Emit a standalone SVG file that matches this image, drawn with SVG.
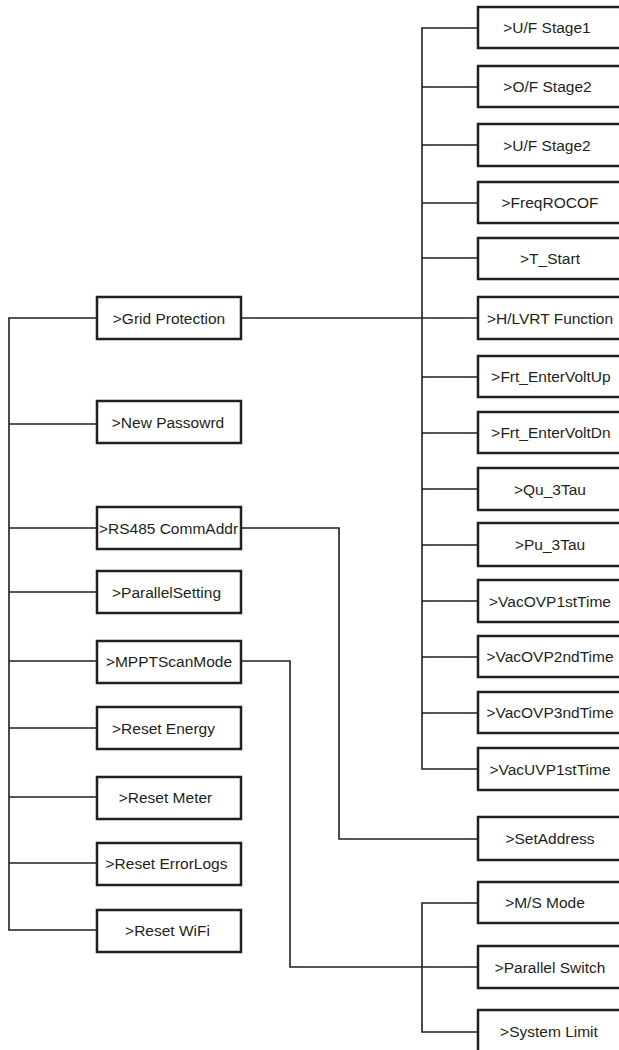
<svg xmlns="http://www.w3.org/2000/svg" width="619" height="1050" viewBox="0 0 619 1050">
<style>
.box{fill:#fff;stroke:#231f20;stroke-width:2.5}
.ln{fill:none;stroke:#231f20;stroke-width:1.6}
text{font-family:"Liberation Sans",Arial,sans-serif;font-size:15.5px;fill:#231f20;text-anchor:middle}
</style>
<rect width="619" height="1050" fill="#fff"/>
<g id="connectors">
<path class="ln" d="M97,318 H9 V930 H97"/>
<path class="ln" d="M9,424 H97 M9,528 H97 M9,592 H97 M9,661 H97 M9,728 H97 M9,797 H97 M9,863 H97"/>
<path class="ln" d="M241,318 H478"/>
<path class="ln" d="M478,28 H422 V769 H478"/>
<path class="ln" d="M422,87 H478 M422,145 H478 M422,203 H478 M422,258 H478 M422,377 H478 M422,433 H478 M422,489 H478 M422,545 H478 M422,601 H478 M422,657 H478 M422,713 H478"/>
<path class="ln" d="M241,528 H339 V839 H478"/>
<path class="ln" d="M241,661 H290 V967 H478"/>
<path class="ln" d="M478,903 H422 V1032 H478"/>
</g>
<g id="n-grid"><rect class="box" x="97" y="297" width="144" height="42"/><text x="169" y="323.5">&gt;Grid Protection</text></g>
<g id="n-pwd"><rect class="box" x="97" y="401" width="144" height="42"/><text x="168" y="427.5">&gt;New Passowrd</text></g>
<g id="n-rs485"><rect class="box" x="97" y="507" width="144" height="42"/><text x="168.5" y="533.5">&gt;RS485 CommAddr</text></g>
<g id="n-parset"><rect class="box" x="97" y="571" width="144" height="42"/><text x="166.5" y="597.5">&gt;ParallelSetting</text></g>
<g id="n-mppt"><rect class="box" x="97" y="641" width="144" height="42"/><text x="169" y="667">&gt;MPPTScanMode</text></g>
<g id="n-renergy"><rect class="box" x="97" y="707" width="144" height="42"/><text x="163.5" y="733.5">&gt;Reset Energy</text></g>
<g id="n-rmeter"><rect class="box" x="97" y="777" width="144" height="42"/><text x="165.5" y="803">&gt;Reset Meter</text></g>
<g id="n-rerr"><rect class="box" x="97" y="843" width="144" height="42"/><text x="166.5" y="869">&gt;Reset ErrorLogs</text></g>
<g id="n-rwifi"><rect class="box" x="97" y="910" width="144" height="42"/><text x="167.5" y="936">&gt;Reset WiFi</text></g>

<g id="n-uf1"><rect class="box" x="478" y="7" width="144" height="41"/><text x="547" y="33">&gt;U/F Stage1</text></g>
<g id="n-of2"><rect class="box" x="478" y="66" width="144" height="41"/><text x="547.5" y="92">&gt;O/F Stage2</text></g>
<g id="n-uf2"><rect class="box" x="478" y="124" width="144" height="42"/><text x="547" y="150.5">&gt;U/F Stage2</text></g>
<g id="n-rocof"><rect class="box" x="478" y="182" width="144" height="41"/><text x="550" y="208">&gt;FreqROCOF</text></g>
<g id="n-tstart"><rect class="box" x="478" y="238" width="144" height="41"/><text x="550" y="264">&gt;T_Start</text></g>
<g id="n-hlvrt"><rect class="box" x="478" y="297" width="144" height="42"/><text x="550" y="323.5">&gt;H/LVRT Function</text></g>
<g id="n-frtup"><rect class="box" x="478" y="356" width="144" height="41"/><text x="551" y="382">&gt;Frt_EnterVoltUp</text></g>
<g id="n-frtdn"><rect class="box" x="478" y="412" width="144" height="41"/><text x="551" y="438">&gt;Frt_EnterVoltDn</text></g>
<g id="n-qu"><rect class="box" x="478" y="468" width="144" height="42"/><text x="550" y="494.5">&gt;Qu_3Tau</text></g>
<g id="n-pu"><rect class="box" x="478" y="523" width="144" height="43"/><text x="550" y="550">&gt;Pu_3Tau</text></g>
<g id="n-ovp1"><rect class="box" x="478" y="580" width="144" height="42"/><text x="550" y="606.5">&gt;VacOVP1stTime</text></g>
<g id="n-ovp2"><rect class="box" x="478" y="636" width="144" height="41"/><text x="550" y="662">&gt;VacOVP2ndTime</text></g>
<g id="n-ovp3"><rect class="box" x="478" y="692" width="144" height="41"/><text x="550" y="718">&gt;VacOVP3ndTime</text></g>
<g id="n-uvp1"><rect class="box" x="478" y="748" width="144" height="42"/><text x="550" y="774.5">&gt;VacUVP1stTime</text></g>
<g id="n-setaddr"><rect class="box" x="478" y="817" width="144" height="43"/><text x="550" y="844">&gt;SetAddress</text></g>
<g id="n-ms"><rect class="box" x="478" y="882" width="144" height="41"/><text x="545" y="908">&gt;M/S Mode</text></g>
<g id="n-pswitch"><rect class="box" x="478" y="946" width="144" height="42"/><text x="550" y="972.5">&gt;Parallel Switch</text></g>
<g id="n-slimit"><rect class="box" x="478" y="1010" width="144" height="44"/><text x="549" y="1037">&gt;System Limit</text></g>
</svg>
